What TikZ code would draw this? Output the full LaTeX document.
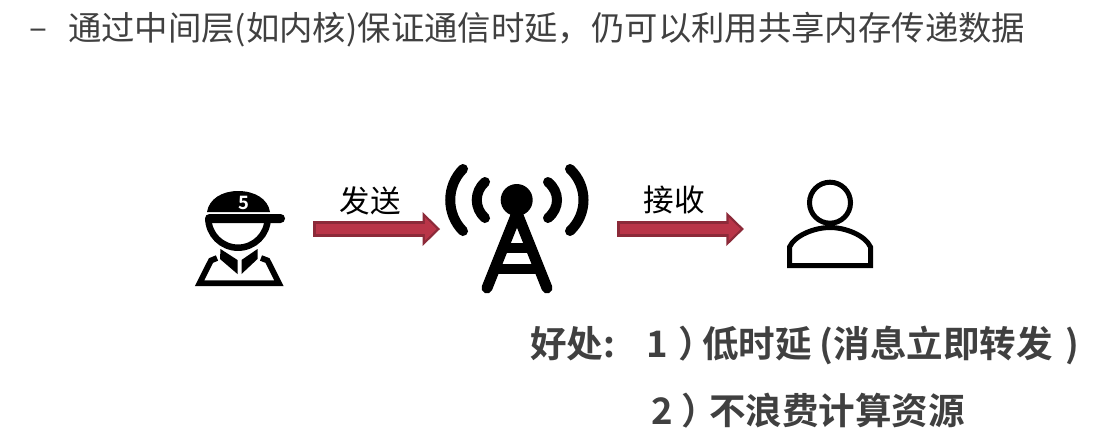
\documentclass[tikz,border=0pt]{standalone}
\usepackage{fontspec}
\setmainfont{Noto Sans CJK SC}[BoldFont={Noto Sans CJK SC Bold}]
\usetikzlibrary{arrows.meta,positioning}
\definecolor{slidegray}{HTML}{404040}
\definecolor{arrowfill}{HTML}{B93548}
\definecolor{arrowedge}{HTML}{8C2A39}
\begin{document}
\begin{tikzpicture}
[x=0.02cm, y=-0.02cm, inner sep=0pt, outer sep=0pt,
slidetext/.style={anchor=west, text=slidegray, font=\fontsize{19pt}{22pt}\selectfont},
gain/.style={anchor=west, text=slidegray, font=\fontsize{20.8pt}{24pt}\selectfont\bfseries},
arrowlabel/.style={text=black, font=\fontsize{17.4pt}{20pt}\selectfont},
icon/.style={minimum height=5.7pt, minimum width=#1},
iconline/.style={draw=black, line width=2.85pt},
towerline/.style={draw=black, line width=6.2pt, line cap=round},
wave/.style={draw=black, line width=5.7pt, line cap=round},
redarrow/.style={draw=arrowedge, line width=9.6pt, -{Triangle[length=10pt, width=18.8pt]},
  postaction={draw=arrowfill, line width=6.2pt, shorten <=1.7pt, shorten >=1.9pt,
  -{Triangle[length=6.8pt, width=13pt]}}}
]
\useasboundingbox (0,0) rectangle (1098,447);

\node[slidetext] (bullet) at (30,34) {–};
\node[slidetext] (title) at (68,30) {通过中间层(如内核)保证通信时延，仍可以利用共享内存传递数据};

% anchors for the connectors
\node[icon=50.6pt] (worker) at (240.5,229) {};
\node[icon=81.4pt] (tower) at (516.5,229) {};
\node[icon=49pt] (person) at (830,229) {};

\draw[redarrow] ([xshift=16.2pt]worker.east) -- ([xshift=-2.8pt]tower.west);
\draw[redarrow] ([xshift=16.5pt]tower.east) -- ([xshift=-24.5pt]person.west);
\node[arrowlabel] (send) at (370,201) {发送};
\node[arrowlabel] (recv) at (674,200) {接收};

% worker
\fill (207,212) .. controls (209,199) and (222,191) .. (238,191)
  .. controls (255,191) and (268,199) .. (270,212) -- cycle;
\fill[rounded corners=2.5pt] (205,214) -- (285,214) -- (285,223) -- (205,223) -- cycle;
\draw[iconline, line width=3.7pt] (208.3,218) arc (180:0:29.7);
\node[text=white, font=\fontsize{10.5pt}{12pt}\selectfont\bfseries] (capnumber) at (244,203) {5};
\fill (220.5,249) -- (237.5,260) -- (237.5,274) -- (220,259) -- cycle;
\fill (257.5,249) -- (241.5,260) -- (241.5,274) -- (257.5,259) -- cycle;
\draw[iconline, line width=3.3pt] (217,258) -- (211,260.5) -- (199.5,283.3) -- (279,283.3) -- (267.5,260.5) -- (261,258);

% tower
\fill (516.7,200) circle[radius=16];
\draw[towerline] (517,213) -- (487,288);
\draw[towerline] (517,213) -- (547,288);
\draw[draw=black, line width=6.2pt] (503,248) -- (531,248);
\draw[draw=black, line width=6.2pt] (494.6,269) -- (539.4,269);
\draw[wave] (485,182) .. controls (474,192) and (474,208) .. (485,218);
\draw[wave] (463,169) .. controls (446,186) and (446,214) .. (463,231);
\draw[wave] (548,182) .. controls (560,192) and (560,208) .. (548,218);
\draw[wave] (570,169) .. controls (588,186) and (588,214) .. (570,231);

% person
\draw[iconline] (830,202.7) circle[radius=20.5];
\draw[iconline] (789.5,265.5) -- (789.5,247) .. controls (795,235) and (815,227.5) .. (830,227.5)
  .. controls (845,227.5) and (865,235) .. (870.5,247) -- (870.5,265.5) -- cycle;

\node[gain] (gain1) at (530,345) {好处:\hspace{17.7pt}1\hspace{6.3pt}）\hspace{-7.5pt}低时延 (消息立即转发\hspace{7pt})};
\node[gain] (gain2) at (651,411) {2\hspace{5pt}）\hspace{-5pt}不浪费计算资源};
\end{tikzpicture}
\end{document}
